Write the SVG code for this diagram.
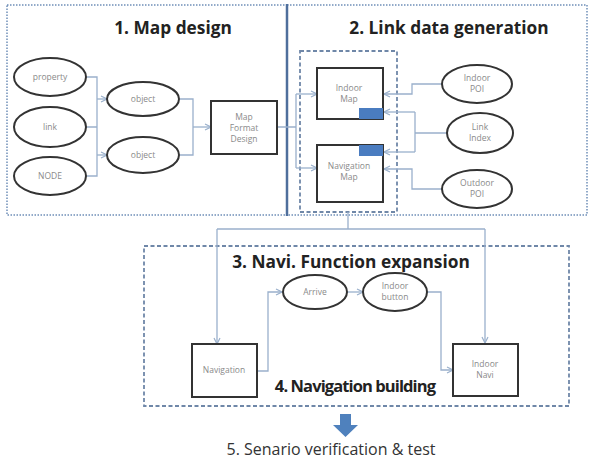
<svg xmlns="http://www.w3.org/2000/svg" width="590" height="459" viewBox="0 0 590 459">
<style>
.dot{fill:none;stroke:#6f8fb8;stroke-width:1.5;stroke-dasharray:1.5 1.5}
.dash{fill:none;stroke:#6f87a8;stroke-width:1.8;stroke-dasharray:4 2.5}
.node{fill:#fff;stroke:#333;stroke-width:2}
.c{fill:none;stroke:#9ab0cc;stroke-width:1.3}
.t{font-family:"Open Sans","Liberation Sans",sans-serif;font-size:8.5px;fill:#8a8a8a;text-anchor:middle}
.h{font-family:"Open Sans","Liberation Sans",sans-serif;font-weight:bold;fill:#222;text-anchor:middle}
</style>
<defs>
<marker id="ah" viewBox="0 0 8 8" refX="7" refY="4" markerWidth="8" markerHeight="8" markerUnits="userSpaceOnUse" orient="auto">
<path d="M1,1 L7,4 L1,7" fill="none" stroke="#9ab0cc" stroke-width="1.2"/>
</marker>
</defs>
<rect width="590" height="459" fill="#fff"/>
<g id="frames">
<rect class="dot" x="7" y="5" width="280" height="210"/>
<rect class="dot" x="287" y="5" width="300" height="210"/>
<line x1="287" y1="4" x2="287" y2="216" stroke="#4f6f9c" stroke-width="2.5"/>
<rect class="dash" x="300" y="51" width="97" height="161"/>
<rect class="dash" x="144" y="246" width="425" height="160"/>
</g>
<g id="titles">
<text class="h" x="173" y="34" font-size="17.3">1. Map design</text>
<text class="h" x="449" y="34" font-size="17.3">2. Link data generation</text>
<text class="h" x="351" y="268" font-size="17.3">3. Navi. Function expansion</text>
<text class="h" x="355" y="392" font-size="16.5" letter-spacing="-0.9">4. Navigation building</text>
<text x="331" y="455" font-family="'Open Sans','Liberation Sans',sans-serif" font-size="16" fill="#333" text-anchor="middle">5. Senario verification &amp; test</text>
</g>
<g id="connectors">
<path class="c" d="M86,77 H97 V176 H86 M86,127 H97"/>
<path class="c" d="M97,99 H107" marker-end="url(#ah)"/>
<path class="c" d="M97,155 H107" marker-end="url(#ah)"/>
<path class="c" d="M180,99 H193 V155 H180"/>
<path class="c" d="M193,127 H211" marker-end="url(#ah)"/>
<path class="c" d="M277,127 H296 M296,94 V168"/>
<path class="c" d="M296,94 H317" marker-end="url(#ah)"/>
<path class="c" d="M296,168 H317" marker-end="url(#ah)"/>
<path class="c" d="M442,84 H412 V94 H384" marker-end="url(#ah)"/>
<path class="c" d="M447,133 H415 M415,112 V152"/>
<path class="c" d="M415,112 H384" marker-end="url(#ah)"/>
<path class="c" d="M415,152 H384" marker-end="url(#ah)"/>
<path class="c" d="M442,189 H412 V169 H384" marker-end="url(#ah)"/>
<path class="c" d="M348,212 V229 M217,229 H485"/>
<path class="c" d="M217,229 V344" marker-end="url(#ah)"/>
<path class="c" d="M485,229 V343" marker-end="url(#ah)"/>
<path class="c" d="M257,371 H268 V292 H282" marker-end="url(#ah)"/>
<path class="c" d="M347,292 H363" marker-end="url(#ah)"/>
<path class="c" d="M427,292 H441 V370 H453" marker-end="url(#ah)"/>
</g>
<g id="property"><ellipse class="node" cx="50" cy="77" rx="36" ry="19"/><text class="t" x="50" y="80">property</text></g>
<g id="link"><ellipse class="node" cx="50" cy="127" rx="36" ry="20"/><text class="t" x="50" y="130">link</text></g>
<g id="node"><ellipse class="node" cx="50" cy="176" rx="36" ry="19"/><text class="t" x="50" y="179">NODE</text></g>
<g id="object1"><ellipse class="node" cx="143" cy="99" rx="36" ry="17"/><text class="t" x="143" y="102">object</text></g>
<g id="object2"><ellipse class="node" cx="143" cy="155" rx="36" ry="18"/><text class="t" x="143" y="158">object</text></g>
<g id="mapformat"><rect class="node" x="211" y="101" width="66" height="53"/><text class="t" x="244" y="120">Map</text><text class="t" x="244" y="131">Format</text><text class="t" x="244" y="142">Design</text></g>
<g id="indoormap"><rect class="node" x="317" y="68" width="66" height="51"/><rect x="359" y="108" width="24" height="11" fill="#4a7cc0"/><text class="t" x="349" y="91">Indoor</text><text class="t" x="349" y="102">Map</text></g>
<g id="navmap"><rect class="node" x="317" y="145" width="66" height="57"/><rect x="359" y="145" width="24" height="11" fill="#4a7cc0"/><text class="t" x="349" y="169">Navigation</text><text class="t" x="349" y="180">Map</text></g>
<g id="indoorpoi"><ellipse class="node" cx="477" cy="84" rx="35" ry="19"/><text class="t" x="477" y="81">Indoor</text><text class="t" x="477" y="92">POI</text></g>
<g id="linkindex"><ellipse class="node" cx="480" cy="133" rx="33" ry="20"/><text class="t" x="480" y="130">Link</text><text class="t" x="480" y="141">Index</text></g>
<g id="outdoorpoi"><ellipse class="node" cx="477" cy="189" rx="35" ry="19"/><text class="t" x="477" y="186">Outdoor</text><text class="t" x="477" y="197">POI</text></g>
<g id="navigation"><rect class="node" x="192" y="344" width="65" height="53"/><text class="t" x="224" y="373">Navigation</text></g>
<g id="arrive"><ellipse class="node" cx="315" cy="292" rx="32" ry="17"/><text class="t" x="315" y="295">Arrive</text></g>
<g id="indoorbutton"><ellipse class="node" cx="395" cy="292" rx="32" ry="19"/><text class="t" x="395" y="289">Indoor</text><text class="t" x="395" y="300">button</text></g>
<g id="indoornavi"><rect class="node" x="453" y="344" width="65" height="52"/><text class="t" x="485" y="367">Indoor</text><text class="t" x="485" y="378">Navi</text></g>
<g id="bigarrow"><path d="M340,414 H351 V425 H358 L345.5,437 L333,425 H340 Z" fill="#4f81bd"/></g>
</svg>
